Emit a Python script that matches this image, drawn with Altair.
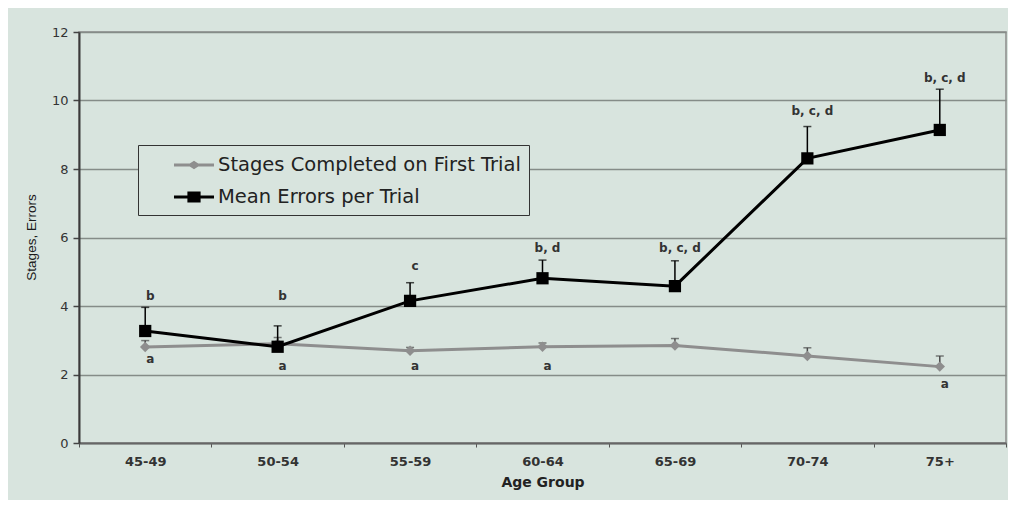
import altair as alt
import pandas as pd

# ---- data ----
age = ["45-49", "50-54", "55-59", "60-64", "65-69", "70-74", "75+"]
series_names = ["Stages Completed on First Trial", "Mean Errors per Trial"]
stages = [2.80, 2.90, 2.69, 2.81, 2.85, 2.54, 2.23]
stages_upper = [2.99, 3.08, 2.79, 2.92, 3.05, 2.78, 2.54]
errors = [3.27, 2.81, 4.15, 4.81, 4.58, 8.31, 9.14]
errors_upper = [3.96, 3.42, 4.68, 5.34, 5.32, 9.24, 10.33]
upper_labels = ["b", "b", "c", "b, d", "b, c, d", "b, c, d", "b, c, d"]
upper_label_y = [4.28, 4.29, 5.17, 5.69, 5.69, 9.69, 10.65]
lower_labels = ["a", "a", "a", "a", "", "", "a"]
lower_label_y = [2.45, 2.26, 2.26, 2.26, 0, 0, 1.72]
y_ticks = [0, 2, 4, 6, 8, 10, 12]

rows = []
for i, a in enumerate(age):
    rows.append({"age": a, "series": series_names[0], "value": stages[i], "upper": stages_upper[i]})
    rows.append({"age": a, "series": series_names[1], "value": errors[i], "upper": errors_upper[i]})
df = pd.DataFrame(rows)

lab = pd.DataFrame({"age": age + age, "text": upper_labels + lower_labels,
                    "ly": upper_label_y + lower_label_y})
lab = lab[lab["text"] != ""]

BG = "#d8e4de"
GRAY = "#8e8e8e"
YTITLE = "Stages, Errors"

xenc = alt.X("age:N", sort=age,
             scale=alt.Scale(type="band", paddingInner=0, paddingOuter=0),
             title="Age Group",
             axis=alt.Axis(labelAngle=0, tickBand="extent", tickSize=4, tickColor="#555",
                           domainColor="#666", domainWidth=2,
                           labelFont="DejaVu Sans", labelFontWeight="bold", labelFontSize=13,
                           labelColor="#333", labelPadding=8,
                           titleFont="DejaVu Sans", titleFontWeight="bold", titleFontSize=14,
                           titleColor="#222", titleBaseline="middle", titleY=39))

yaxis = alt.Axis(values=y_ticks, grid=True, gridColor="#858c88", gridWidth=1.5,
                 tickSize=6, tickColor="#444", tickWidth=1.5,
                 domainColor="#3a3a3a", domainWidth=2,
                 labelFont="DejaVu Sans", labelFontSize=13, labelColor="#333", labelPadding=5,
                 titleFont="Liberation Sans", titleFontSize=13.5, titleFontWeight="normal",
                 titleColor="#1a1a1a", titleAngle=270, titleBaseline="middle", titleAlign="center",
                 titleX=-48, titleY=205)
yscale = alt.Scale(domain=[0, 12], nice=False)


def yenc(field):
    return alt.Y(field, scale=yscale, axis=yaxis, title=YTITLE)


def series_layers(name, line_color, err_color, point):
    base = alt.Chart(df).transform_filter(alt.datum.series == name)
    err = base.mark_rule(color=err_color, strokeWidth=1.5).encode(
        x=xenc, y=yenc("value:Q"), y2="upper:Q")
    cap = base.mark_tick(color=err_color, thickness=1.5, size=8).encode(
        x=xenc, y=yenc("upper:Q"))
    line = base.mark_line(color=line_color, strokeWidth=3).encode(x=xenc, y=yenc("value:Q"))
    pts = point(base).encode(x=xenc, y=yenc("value:Q"))
    return [err, cap, line, pts]


gray_layers = series_layers(series_names[0], GRAY, "#4a4a4a",
                            lambda b: b.mark_point(shape="diamond", filled=True, size=110,
                                                   color=GRAY, opacity=1))
black_layers = series_layers(series_names[1], "#000000", "#000000",
                             lambda b: b.mark_square(size=150, color="#000000", opacity=1))

texts = alt.Chart(lab).mark_text(font="DejaVu Sans", fontWeight="bold", fontSize=12,
                                 color="#333", dx=5, baseline="middle").encode(
    x=xenc, y=yenc("ly:Q"), text="text:N")

diamond_path = ("M-1.667,-0.125H-0.354L0,-0.35L0.354,-0.125H1.667V0.125H0.354"
                "L0,0.35L-0.354,0.125H-1.667Z")
square_path = ("M-1.667,-0.125H-0.55V-0.45H0.55V-0.125H1.667V0.125H0.55V0.45"
               "H-0.55V0.125H-1.667Z")

leg = alt.Legend(title=None, orient="none", legendX=59, legendY=113, direction="vertical",
                 fillColor=BG, strokeColor="#333", padding=8, symbolSize=576,
                 symbolStrokeWidth=0, symbolOpacity=1, symbolOffset=36, labelOffset=12,
                 labelFont="DejaVu Sans", labelFontSize=19.5, labelColor="#222",
                 rowPadding=10, labelLimit=0)

legend_layer = alt.Chart(df).mark_point(filled=True, opacity=0, size=10).encode(
    x=xenc, y=yenc("value:Q"),
    color=alt.Color("series:N", scale=alt.Scale(domain=series_names, range=[GRAY, "#000000"]),
                    legend=leg),
    shape=alt.Shape("series:N", scale=alt.Scale(domain=series_names,
                                                range=[diamond_path, square_path]),
                    legend=leg))

chart = alt.layer(*gray_layers, *black_layers, texts, legend_layer).properties(
    width=927, height=411,
    padding={"left": 71, "top": 24, "right": 2, "bottom": 57},
    autosize=alt.AutoSizeParams(type="none"),
    background=BG,
).configure_view(stroke="#8a8a8a", strokeWidth=1.5)

chart.save("out.html", embed_options={"renderer": "svg", "actions": False})
